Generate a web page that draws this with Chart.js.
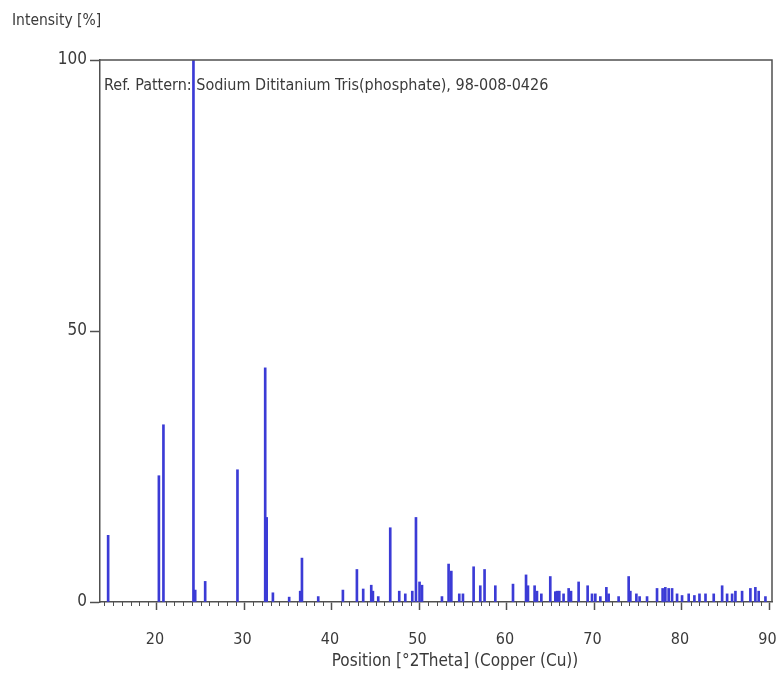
<!DOCTYPE html>
<html>
<head>
<meta charset="utf-8">
<script src="https://cdn.jsdelivr.net/npm/chart.js@4/dist/chart.umd.min.js"></script>
<style>
  body { margin: 0; background: #fff; }
  #wrap { width: 778px; height: 686px; }
</style>
</head>
<body>
<div id="wrap"><canvas id="grafico" width="778" height="686"></canvas></div>
<script>
// posicoes dos picos (graus 2theta) e intensidades relativas (%)
const posicoes = [
  14.43, 20.23, 20.75, 24.18, 24.38, 25.52, 29.21, 32.38, 32.55, 33.26,
  35.12, 36.38, 36.58, 38.44, 41.26, 42.86, 43.58, 44.50, 44.69, 45.30,
  46.67, 47.70, 48.39, 49.19, 49.61, 50.02, 50.30, 52.58, 53.34, 53.65,
  54.56, 54.98, 56.20, 56.96, 57.45, 58.68, 60.70, 62.19, 62.41, 63.17,
  63.44, 63.94, 64.96, 65.54, 65.73, 65.99, 66.48, 67.06, 67.33, 68.20,
  69.23, 69.73, 70.11, 70.68, 71.37, 71.63, 72.77, 73.92, 74.11, 74.80,
  75.17, 76.02, 77.16, 77.80, 78.11, 78.49, 78.88, 79.45, 80.02, 80.78,
  81.43, 82.01, 82.70, 83.64, 84.60, 85.17, 85.74, 86.12, 86.88, 87.83,
  88.40, 88.78, 89.55
];
const intensidades = [
  12.3, 23.3, 32.7, 100, 2.2, 3.8, 24.4, 43.2, 15.6, 1.7,
  0.9, 2.0, 8.1, 1.0, 2.2, 6.0, 2.4, 3.1, 2.0, 1.0,
  13.7, 2.0, 1.5, 2.0, 15.6, 3.7, 3.1, 1.0, 7.0, 5.7,
  1.5, 1.5, 6.5, 3.0, 6.0, 3.0, 3.3, 5.0, 3.0, 3.0,
  2.0, 1.5, 4.7, 1.9, 2.0, 2.0, 1.5, 2.5, 2.0, 3.7,
  3.0, 1.5, 1.5, 1.0, 2.7, 1.5, 1.0, 4.7, 2.0, 1.5,
  1.0, 1.0, 2.5, 2.5, 2.7, 2.5, 2.5, 1.5, 1.2, 1.5,
  1.2, 1.5, 1.5, 1.5, 3.0, 1.5, 1.5, 2.0, 2.0, 2.5,
  2.7, 2.0, 1.0
];
const ticksX = [20, 30, 40, 50, 60, 70, 80, 90];
const ticksY = [0, 50, 100];

const fonte = "'Liberation Sans Narrow', 'DejaVu Sans Condensed', sans-serif";
const corTexto = '#3a3a3a';
const corEixo = '#505050';

// moldura, ticks menores e textos soltos
const extras = {
  id: 'extras',
  afterDraw(chart) {
    const ctx = chart.ctx;
    const area = chart.chartArea;
    const sx = chart.scales.x;
    ctx.save();
    ctx.strokeStyle = corEixo;
    ctx.lineWidth = 1.5;
    ctx.beginPath();
    ctx.moveTo(area.left, area.top);
    ctx.lineTo(area.right, area.top);
    ctx.lineTo(area.right, area.bottom);
    ctx.stroke();

    // ticks menores a cada grau
    ctx.lineWidth = 1;
    ctx.beginPath();
    for (let v = Math.ceil(sx.min); v <= sx.max; v++) {
      if (v % 10 === 0) continue;
      const px = Math.round(sx.getPixelForValue(v)) + 0.5;
      ctx.moveTo(px, area.bottom);
      ctx.lineTo(px, area.bottom + 4);
    }
    ctx.stroke();

    ctx.fillStyle = corTexto;
    ctx.textBaseline = 'middle';
    ctx.textAlign = 'left';
    ctx.font = '16px ' + fonte;
    ctx.fillText('Ref. Pattern: Sodium Dititanium Tris(phosphate), 98-008-0426', area.left + 4, area.top + 26);
    ctx.font = '15.5px ' + fonte;
    ctx.fillText('Intensity [%]', 12, 21);
    ctx.font = '17px ' + fonte;
    ctx.textAlign = 'center';
    ctx.fillText('Position [°2Theta] (Copper (Cu))', 455, 662);
    ctx.restore();
  }
};

new Chart(document.getElementById('grafico'), {
  type: 'bar',
  data: {
    datasets: [{
      data: posicoes.map((p, i) => ({ x: p, y: intensidades[i] })),
      backgroundColor: '#3b3bd6',
      borderWidth: 0,
      barThickness: 2,
      grouped: false
    }]
  },
  options: {
    responsive: false,
    animation: false,
    layout: { padding: { top: 60, right: 6, left: 0, bottom: 0 } },
    plugins: { legend: { display: false }, tooltip: { enabled: false } },
    scales: {
      x: {
        type: 'linear',
        offset: false,
        min: 13.5,
        max: 90.3,
        afterBuildTicks: s => { s.ticks = ticksX.map(v => ({ value: v })); },
        afterFit: s => { s.height = 84; s.paddingLeft = 0; s.paddingRight = 0; },
        grid: { display: true, offset: false, drawOnChartArea: false, tickLength: 8, tickColor: corEixo, tickWidth: 1.5 },
        border: { color: corEixo, width: 1.5 },
        ticks: { color: corTexto, font: { family: fonte, size: 16 }, padding: 20, labelOffset: -2, maxRotation: 0 }
      },
      y: {
        min: 0,
        max: 100,
        afterBuildTicks: s => { s.ticks = ticksY.map(v => ({ value: v })); },
        afterFit: s => { s.width = 100; },
        grid: { display: true, drawOnChartArea: false, tickLength: 10, tickColor: corEixo, tickWidth: 1.5 },
        border: { color: corEixo, width: 1.5 },
        ticks: { color: corTexto, font: { family: fonte, size: 17 }, padding: 3 }
      }
    }
  },
  plugins: [extras]
});
</script>
</body>
</html>
